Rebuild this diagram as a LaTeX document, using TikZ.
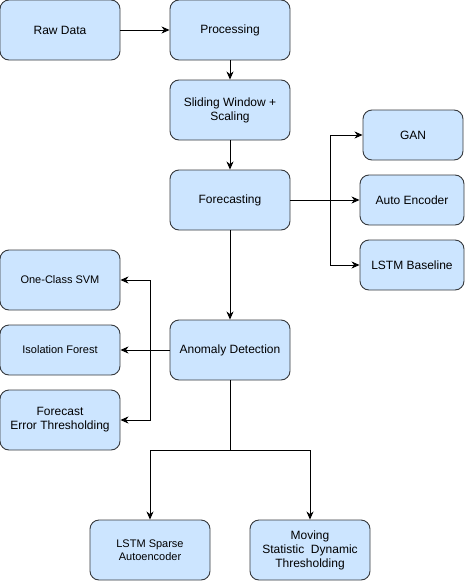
\documentclass[tikz,border=0pt]{standalone}
\usepackage{fontspec}
\setmainfont{Liberation Sans}
\usetikzlibrary{arrows.meta}
\definecolor{boxfill}{HTML}{CCE5FF}
\definecolor{boxline}{HTML}{36393D}
\begin{document}
\begin{tikzpicture}[x=1pt,y=-1pt,
  box/.style={draw=boxline,fill=boxfill,line width=0.9pt,rounded corners=9pt,
    minimum width=120pt,minimum height=60pt,align=center,inner sep=2pt,
    font=\fontsize{12}{14}\selectfont},
  small/.style={font=\fontsize{11}{13}\selectfont},
  arr/.style={-{Stealth[length=8pt,width=7pt,inset=2.5pt]},line width=0.9pt,black},
  ln/.style={line width=0.9pt,black}]
\useasboundingbox (0,0) rectangle (469,581);
\node[box] (raw) at (60,30) {Raw Data};
\node[box] (proc) at (230,30) {Processing};
\node[box] (slide) at (230,110) {Sliding Window +\\Scaling};
\node[box] (fc) at (230,200) {Forecasting};
\node[box,minimum width=100pt,minimum height=50pt] (gan) at (413,135) {GAN};
\node[box,minimum width=104pt,minimum height=50pt] (ae) at (412,200) {Auto Encoder};
\node[box,minimum width=104pt,minimum height=50pt] (lb) at (412,265) {LSTM Baseline};
\node[box,small] (svm) at (60,280) {One-Class SVM};
\node[box,small,minimum height=50pt] (iso) at (60,350) {Isolation Forest};
\node[box] (fe) at (60,420) {Forecast\\Error Thresholding};
\node[box] (ad) at (230,350) {Anomaly Detection};
\node[box,small] (lsa) at (150,550) {LSTM Sparse\\Autoencoder};
\node[box] (msd) at (310,550) {Moving\\Statistic\ \ Dynamic\\Thresholding};
\coordinate (fb) at (330,200);
\coordinate (ab) at (150,350);
\coordinate (db) at (230,450);
\draw[arr] (raw) -- (proc);
\draw[arr] (proc) -- (slide);
\draw[arr] (slide) -- (fc);
\draw[arr] (fc) -- (ad);
\draw[arr] (fc.east) -- (ae.west);
\draw[arr] (fb) |- (gan.west);
\draw[arr] (fb) |- (lb.west);
\draw[arr] (ad.west) -- (iso.east);
\draw[arr] (ab) |- (svm.east);
\draw[arr] (ab) |- (fe.east);
\draw[ln] (ad.south) -- (db);
\draw[arr] (db) -| (lsa.north);
\draw[arr] (db) -| (msd.north);
\end{tikzpicture}
\end{document}
